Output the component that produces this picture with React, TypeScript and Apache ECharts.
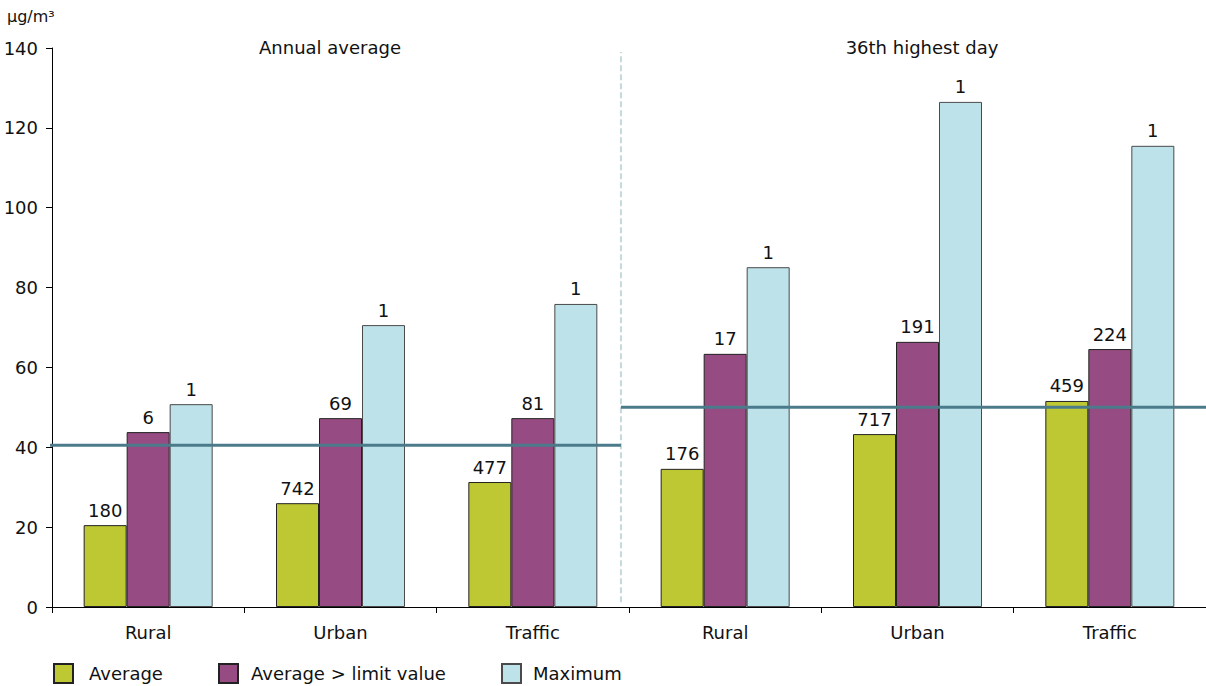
import React, { useEffect, useRef } from "react";
import * as echarts from "echarts";

const categories = ["Rural", "Urban", "Traffic", "Rural", "Urban", "Traffic"];
const periodTitles = ["Annual average", "36th highest day"];
const seriesNames = ["Average", "Average > limit value", "Maximum"];
const averageValues = [20.5, 26.0, 31.3, 34.6, 43.3, 51.6];
const aboveLimitValues = [43.8, 47.3, 47.3, 63.4, 66.4, 64.6];
const maximumValues = [50.8, 70.6, 75.9, 85.1, 126.5, 115.5];
const averageCounts = [180, 742, 477, 176, 717, 459];
const aboveLimitCounts = [6, 69, 81, 17, 191, 224];
const maximumCounts = [1, 1, 1, 1, 1, 1];
const limitValues = [40.5, 50];
const unitLabel = "µg/m³";

const FONT = "DejaVu Sans";
const colors = ["#bec832", "#964c83", "#bde2e9"];

export default function App() {
  const ref = useRef<HTMLDivElement>(null);
  useEffect(() => {
    if (!ref.current) return;
    const chart = echarts.init(ref.current, null, { renderer: "svg" });
    const sep = 2.958;
    const mkBar = (i: number, values: number[], counts: number[]) => ({
      name: seriesNames[i],
      type: "bar",
      xAxisIndex: 0,
      yAxisIndex: 0,
      barWidth: 43,
      barGap: "0%",
      data: values,
      itemStyle: { color: colors[i], borderColor: i === 2 ? "#4a4a4a" : "#222", borderWidth: 1 },
      label: {
        show: true,
        position: "top",
        distance: 6,
        color: "#111",
        fontFamily: FONT,
        fontSize: 18,
        formatter: (p: any) => String(counts[p.dataIndex]),
      },
      z: 2,
    });
    const legendBase = (name: string, left: number, pad: number) => ({
      data: [name],
      left,
      top: 663,
      padding: 0,
      itemWidth: 19,
      itemHeight: 19,
      icon: "rect",
      textStyle: { fontFamily: FONT, fontSize: 18, color: "#111", padding: [2, 0, 0, pad] },
    });
    chart.setOption({
      animation: false,
      textStyle: { fontFamily: FONT },
      grid: { left: 52, right: 0, top: 48, bottom: 79, containLabel: false },
      legend: [
        legendBase(seriesNames[0], 53, 11),
        legendBase(seriesNames[1], 218, 8),
        legendBase(seriesNames[2], 501, 7),
      ],
      xAxis: [
        {
          type: "category",
          data: categories,
          boundaryGap: true,
          axisLine: { lineStyle: { color: "#000", width: 1 } },
          axisTick: { show: true, length: 6, lineStyle: { color: "#000" } },
          axisLabel: { color: "#111", fontFamily: FONT, fontSize: 18, margin: 16 },
          splitLine: { show: false },
        },
        { type: "value", min: 0, max: 6, show: false },
      ],
      yAxis: {
        type: "value",
        min: 0,
        max: 140,
        interval: 20,
        axisLine: { show: true, lineStyle: { color: "#000", width: 1 } },
        axisTick: { show: true, length: 6, lineStyle: { color: "#000" } },
        axisLabel: { color: "#111", fontFamily: FONT, fontSize: 18, margin: 14 },
        splitLine: { show: false },
      },
      series: [
        mkBar(0, averageValues, averageCounts),
        mkBar(1, aboveLimitValues, aboveLimitCounts),
        mkBar(2, maximumValues, maximumCounts),
        {
          type: "line",
          xAxisIndex: 1,
          clip: false,
          symbol: "none",
          silent: true,
          data: [[sep, 1.2], [sep, 139]],
          lineStyle: { color: "#c3d9de", width: 2, type: [6, 3] },
          z: 1,
        },
        {
          type: "line",
          xAxisIndex: 1,
          clip: false,
          symbol: "none",
          silent: true,
          data: [[-0.19, limitValues[0]], [sep, limitValues[0]]],
          lineStyle: { color: "#4b7b8b", width: 3 },
          z: 5,
        },
        {
          type: "line",
          xAxisIndex: 1,
          clip: false,
          symbol: "none",
          silent: true,
          data: [[sep, limitValues[1]], [6, limitValues[1]]],
          lineStyle: { color: "#4b7b8b", width: 3 },
          z: 5,
        },
      ],
      graphic: [
        {
          type: "text",
          left: 7,
          top: 8,
          style: { text: unitLabel, fontFamily: FONT, fontSize: 16, fill: "#111" },
        },
        {
          type: "text",
          x: 330,
          y: 47,
          style: { text: periodTitles[0], fontFamily: FONT, fontSize: 18, fill: "#111", align: "center", verticalAlign: "middle" },
        },
        {
          type: "text",
          x: 922,
          y: 47,
          style: { text: periodTitles[1], fontFamily: FONT, fontSize: 18, fill: "#111", align: "center", verticalAlign: "middle" },
        },
      ],
    });
    return () => chart.dispose();
  }, []);
  return (
    <div
      ref={ref}
      style={{ position: "fixed", left: 0, top: 0, width: 1206, height: 686, background: "#fff" }}
    />
  );
}
